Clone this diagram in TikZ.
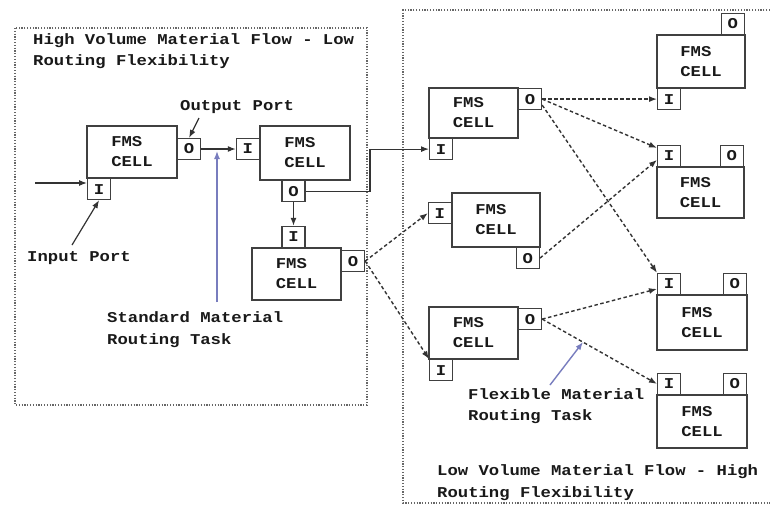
\documentclass[tikz,border=0pt]{standalone}
\usepackage{fontspec}
\usetikzlibrary{arrows.meta,calc}
\newfontfamily\cf{Liberation Mono}[FakeStretch=1.15]
\definecolor{ptrblue}{RGB}{120,125,190}
\begin{document}
\begin{tikzpicture}[x=1pt,y=-1pt,
 every node/.style={font=\cf\bfseries\fontsize{15}{20}\selectfont, text=black!90, inner sep=0pt},
 cellbox/.style={draw=black!75, line width=1.2pt, align=left},
 port/.style={draw=black!75, line width=1.2pt, minimum width=23pt, minimum height=21pt},
 lbl/.style={anchor=west, align=left, font=\cf\bfseries\fontsize{15}{21.5}\selectfont},
 conn/.style={draw=black!80, line width=1.2pt, -{Latex[length=8pt,width=6pt]}},
 dconn/.style={conn, line width=1.4pt, dash pattern=on 3.5pt off 2.5pt},
 ptr/.style={draw=ptrblue, line width=1.4pt, -{Latex[length=8pt,width=6pt]}},
 region/.style={draw=black!60, line width=1.3pt, dash pattern=on 1.2pt off 1.6pt}
]
\useasboundingbox (0,0) rectangle (770,504);
\fill[white] (0,0) rectangle (770,504);

% regions
\draw[region] (15,28) rectangle (367,405);
\draw[region] (770,10) -- (403,10) -- (403,503) -- (770,503);

% cells
\node[cellbox, minimum width=90pt, minimum height=52pt] (c1) at (132,152) {FMS\\CELL};
\node[port, anchor=west] (c1o) at (177,149) {O};
\node[port, anchor=north west] (c1i) at (87,178) {I};

\node[cellbox, minimum width=90pt, minimum height=54pt] (c2) at (305,153) {FMS\\CELL};
\node[port, anchor=east] (c2i) at (260,149) {I};
\node[port, anchor=north] (c2o) at (293.5,180) {O};

\node[cellbox, minimum width=89pt, minimum height=52pt] (c3) at (296.5,274) {FMS\\CELL};
\node[port, anchor=south] (c3i) at (293.5,248) {I};
\node[port, anchor=north west] (c3o) at (341,250) {O};

\node[cellbox, minimum width=89pt, minimum height=50pt] (c4) at (473.5,113) {FMS\\CELL};
\node[port, anchor=north west] (c4o) at (518,88) {O};
\node[port, anchor=north west] (c4i) at (429,138) {I};

\node[cellbox, minimum width=88pt, minimum height=54pt] (c5) at (496,220) {FMS\\CELL};
\node[port, anchor=north east] (c5i) at (452,202) {I};
\node[port, anchor=north east] (c5o) at (540,247) {O};

\node[cellbox, minimum width=89pt, minimum height=52pt] (c6) at (473.5,333) {FMS\\CELL};
\node[port, anchor=north west] (c6o) at (518,308) {O};
\node[port, anchor=north west] (c6i) at (429,359) {I};

\node[cellbox, minimum width=88pt, minimum height=53pt] (c7) at (701,61.5) {FMS\\CELL};
\node[port, anchor=south east] (c7o) at (745,35) {O};
\node[port, anchor=north west] (c7i) at (657,88) {I};

\node[cellbox, minimum width=87pt, minimum height=51pt] (c8) at (700.5,192.5) {FMS\\CELL};
\node[port, anchor=south west] (c8i) at (657,167) {I};
\node[port, anchor=south east] (c8o) at (744,167) {O};

\node[cellbox, minimum width=90pt, minimum height=55pt] (c9) at (702,322.5) {FMS\\CELL};
\node[port, anchor=south west] (c9i) at (657,295) {I};
\node[port, anchor=south east] (c9o) at (747,295) {O};

\node[cellbox, minimum width=90pt, minimum height=53pt] (c10) at (702,421.5) {FMS\\CELL};
\node[port, anchor=south west] (c10i) at (657,395) {I};
\node[port, anchor=south east] (c10o) at (747,395) {O};

% labels
\node[lbl] (t1) at (33,51) {High Volume Material Flow - Low\\Routing Flexibility};
\node[lbl] (lop) at (180,107) {Output Port};
\node[lbl] (lip) at (27,258) {Input Port};
\node[lbl] (lsm) at (107,329.5) {Standard Material\\Routing Task};
\node[lbl] (lfm) at (468,406) {Flexible Material\\Routing Task};
\node[lbl] (t2) at (437,482.5) {Low Volume Material Flow - High\\Routing Flexibility};

% coordinates
\coordinate (in1) at (35,183);
\coordinate (bx) at (370,0);
\coordinate (op1) at (199,118);
\coordinate (ip1) at (72,245);
\coordinate (sp1) at (217,302);
\coordinate (sp2) at (217,151);
\coordinate (fp1) at (550,385);
\coordinate (fp2) at (583,342);

% solid connectors
\draw[conn] (in1) -- (c1i.west |- in1);
\draw[conn] (c1o.east) -- (c2i.west);
\draw[conn] (c2o.south) -- (c3i.north);
\draw[conn] (c2o.east) -- (c2o.east -| bx) |- (c4i.west);

% dashed connectors
\draw[dconn] (c3o.east) -- (c5i.west);
\draw[dconn] (c3o.east) -- (c6i.north west);
\draw[dconn] (c4o.east) -- (c7i.west);
\draw[dconn] (c4o.east) -- ([yshift=8pt]c8i.west);
\draw[dconn] ([yshift=-6pt]c4o.east) -- (c9i.north west);
\draw[dconn] (c5o.east) -- ([yshift=-4pt]c8i.west);
\draw[dconn] (c6o.east) -- ([yshift=-5pt]c9i.west);
\draw[dconn] (c6o.east) -- (c10i.west);

% pointers
\draw[conn] (op1) -- (c1o.north);
\draw[conn] (ip1) -- (c1i.south);
\draw[ptr] (sp1) -- (sp2);
\draw[ptr] (fp1) -- (fp2);
\end{tikzpicture}
\end{document}
